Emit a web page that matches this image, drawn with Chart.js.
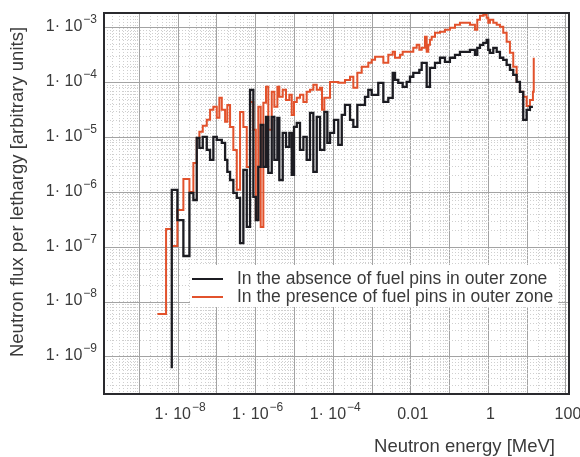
<!DOCTYPE html>
<html>
<head>
<meta charset="utf-8">
<script src="https://cdn.jsdelivr.net/npm/chart.js@4"></script>
<style>
  html, body { margin: 0; padding: 0; background: #fff; }
</style>
</head>
<body>
<canvas id="myChart" width="580" height="457"></canvas>
<script>
// lower edge of each energy group [MeV]
var energy = [
  2.93e-9, 4.90e-9, 6.41e-9, 6.88e-9, 9.6e-9, 1.37e-8, 1.96e-8, 2.48e-8, 3.03e-8, 3.54e-8,
  4.33e-8, 5.49e-8, 6.68e-8, 8.12e-8, 9.94e-8, 1.16e-7, 1.34e-7, 1.63e-7, 1.86e-7, 2.19e-7,
  2.66e-7, 3.26e-7, 3.96e-7, 4.82e-7, 5.90e-7, 7.17e-7, 8.72e-7, 1.01e-6, 1.17e-6, 1.35e-6,
  1.58e-6, 1.85e-6, 2.12e-6, 2.60e-6, 3.03e-6, 3.63e-6, 4.08e-6, 4.99e-6, 6.07e-6, 7.39e-6,
  8.52e-6, 9.76e-6, 1.15e-5, 1.39e-5, 1.70e-5, 2.07e-5, 2.52e-5, 3.07e-5, 3.76e-5, 4.57e-5,
  5.14e-5, 5.90e-5, 7.05e-5, 8.27e-5, 1.05e-4, 1.35e-4, 1.66e-4, 2.01e-4, 2.71e-4, 3.30e-4,
  4.18e-4, 5.43e-4, 6.60e-4, 8.03e-4, 9.82e-4, 1.20e-3, 1.45e-3, 1.96e-3, 2.63e-3, 3.42e-3,
  3.92e-3, 4.76e-3, 5.27e-3, 6.18e-3, 7.84e-3, 9.53e-3, 1.16e-2, 1.42e-2, 1.66e-2, 1.91e-2,
  2.32e-2, 2.57e-2, 2.82e-2, 3.12e-2, 3.46e-2, 4.21e-2, 5.66e-2, 7.61e-2, 0.102, 0.138,
  0.185, 0.249, 0.336, 0.451, 0.518, 0.608, 0.739, 0.904, 0.994, 1.10,
  1.34, 1.64, 1.99, 2.42, 2.96, 3.60, 4.38, 5.36, 6.52, 7.93,
  9.70, 11.8, 14.1, 14.8
];

// flux per lethargy, no fuel pins in outer zone (black)
var fluxAbsent = [
  null, null, 6.51e-10, 1.11e-6, 3.13e-7, 6.91e-8, 9.75e-7, 7.26e-7, 9.83e-6, 6.46e-6,
  1.03e-5, 5.94e-6, 3.90e-6, 1.03e-5, 9.04e-6, 9.04e-6, 7.97e-6, 3.90e-6, 2.36e-6, 1.68e-6,
  9.75e-7, 7.90e-7, 1.19e-7, 2.56e-6, 2.34e-7, 7.39e-5, 8.24e-7, 3.13e-7, 2.91e-6, 1.70e-5,
  2.91e-6, 2.38e-5, 2.26e-6, 2.38e-5, 3.90e-6, 2.28e-5, 1.68e-6, 1.21e-5, 6.74e-6, 1.21e-5,
  2.08e-6, 1.56e-5, 1.85e-5, 5.94e-6, 1.03e-5, 3.90e-6, 2.81e-5, 2.36e-6, 2.38e-5, 5.94e-6,
  5.94e-6, 2.93e-5, 7.97e-6, 1.21e-5, 2.10e-5, 7.33e-6, 2.58e-5, 3.93e-5, 2.10e-5, 1.56e-5,
  3.93e-5, 3.93e-5, 5.51e-5, 7.39e-5, 5.99e-5, 5.99e-5, 9.92e-5, 4.46e-5, 5.28e-5, 1.51e-4,
  1.12e-4, 9.92e-5, 9.92e-5, 8.38e-5, 1.03e-4, 1.28e-4, 1.51e-4, 1.51e-4, 1.71e-4, 2.30e-4,
  2.30e-4, 8.38e-5, 8.38e-5, 1.86e-4, 1.86e-4, 2.30e-4, 2.84e-4, 2.40e-4, 2.84e-4, 3.21e-4,
  3.65e-4, 3.65e-4, 3.97e-4, 3.21e-4, 4.32e-4, 4.90e-4, 5.32e-4, 6.04e-4, 3.97e-4, 3.50e-4,
  4.32e-4, 3.65e-4, 2.84e-4, 2.61e-4, 2.11e-4, 1.71e-4, 1.39e-4, 1.03e-4, 6.79e-5, 2.10e-5,
  3.19e-5, 3.62e-5, 3.62e-5, null
];

// flux per lethargy, fuel pins in outer zone (orange)
var fluxPresent = [
  6.04e-9, 2.15e-7, 2.15e-7, 1.05e-7, 4.77e-7, 1.76e-6, 1.02e-6, 3.44e-6, 9.83e-6, 1.27e-5,
  1.63e-5, 2.10e-5, 3.19e-5, 3.62e-5, 2.28e-5, 5.28e-5, 3.19e-5, 1.93e-5, 3.93e-5, 1.56e-5,
  5.94e-6, 1.11e-6, 2.93e-5, 1.56e-5, 2.91e-6, 4.46e-5, 1.38e-5, 3.13e-7, 3.62e-5, 2.34e-7,
  4.28e-5, 8.38e-5, 1.38e-5, 6.79e-5, 3.62e-5, 8.38e-5, 5.51e-5, 7.39e-5, 4.85e-5, 5.99e-5,
  2.58e-5, 4.46e-5, 5.28e-5, 5.99e-5, 4.46e-5, 6.79e-5, 7.39e-5, 9.12e-5, 7.39e-5, 8.04e-5,
  3.19e-5, 5.28e-5, 5.28e-5, 1.03e-4, 1.03e-4, 9.92e-5, 9.92e-5, 1.12e-4, 1.28e-4, 8.04e-5,
  1.51e-4, 1.94e-4, 1.94e-4, 2.30e-4, 2.61e-4, 2.96e-4, 2.96e-4, 2.30e-4, 3.21e-4, 3.65e-4,
  2.84e-4, 2.84e-4, 3.21e-4, 3.65e-4, 3.65e-4, 3.65e-4, 4.32e-4, 4.90e-4, 3.97e-4, 4.32e-4,
  6.85e-4, 3.65e-4, 4.90e-4, 6.04e-4, 6.85e-4, 8.11e-4, 8.45e-4, 9.19e-4, 1.00e-3, 1.13e-3,
  1.23e-3, 1.23e-3, 1.13e-3, 9.19e-4, 1.40e-3, 1.66e-3, 1.73e-3, 1.52e-3, 1.23e-3, 1.40e-3,
  1.23e-3, 1.13e-3, 1.04e-3, 8.11e-4, 5.55e-4, 3.50e-4, 1.94e-4, 1.03e-4, 6.79e-5, 5.51e-5,
  3.77e-5, 4.85e-5, 6.79e-5, 2.84e-4
];

var seriesLabels = ['In the absence of fuel pins in outer zone', 'In the presence of fuel pins in outer zone'];
var seriesColors = ['#1c1c22', '#e2522c'];

// tick labels: text before '^' is the base, after it the superscript
var xTickValues = [1e-8, 1e-6, 1e-4, 1e-2, 1, 100];
var xTickLabels = ['1\u00b7 10^\u22128', '1\u00b7 10^\u22126', '1\u00b7 10^\u22124', '0.01', '1', '100'];
var yTickValues = [1e-9, 1e-8, 1e-7, 1e-6, 1e-5, 1e-4, 1e-3];
var yTickLabels = ['1\u00b7 10^\u22129', '1\u00b7 10^\u22128', '1\u00b7 10^\u22127', '1\u00b7 10^\u22126',
                   '1\u00b7 10^\u22125', '1\u00b7 10^\u22124', '1\u00b7 10^\u22123'];

var xMin = 1.23e-10, xMax = 120;
var yMin = 2.11e-10, yMax = 1.86e-3;

if (fluxAbsent.length !== energy.length || fluxPresent.length !== energy.length) {
    throw new Error('length mismatch ' + energy.length + ' ' + fluxAbsent.length + ' ' + fluxPresent.length);
}

var FONT = "'Liberation Sans', Arial, sans-serif";
var TEXT = '#3a3a3a';

function decadeTicks(lo, hi) {
    var out = [];
    for (var e = Math.floor(Math.log10(lo)); e <= Math.ceil(Math.log10(hi)); e++) {
        for (var m = 1; m <= 9; m++) {
            var v = m * Math.pow(10, e);
            if (v >= lo && v <= hi) out.push({ value: v, major: m === 1 });
        }
    }
    return out;
}

function toPoints(ys) {
    return energy.map(function (e, i) { return { x: e, y: ys[i] }; });
}

function gridOpts() {
    return {
        drawTicks: false,
        lineWidth: 1,
        color: function (c) { return c.tick && c.tick.major ? '#a3a3a3' : '#cfcfcf'; }
    };
}
function borderOpts() {
    return {
        display: false,
        dash: function (c) { return c.tick && c.tick.major ? [] : [1, 2]; }
    };
}

// draws "base" + raised "sup"; anchor: 'right' (y axis) or 'center' (x axis)
function drawPowerLabel(ctx, label, x, y, anchor) {
    var parts = label.split('^');
    var base = parts[0], sup = parts[1] || '';
    ctx.font = '16px ' + FONT;
    var bw = ctx.measureText(base).width;
    ctx.font = '12px ' + FONT;
    var sw = sup ? ctx.measureText(sup).width + 1 : 0;
    var x0 = anchor === 'right' ? x - bw - sw : x - (bw + sw) / 2;
    ctx.textAlign = 'left';
    ctx.textBaseline = 'middle';
    ctx.font = '16px ' + FONT;
    ctx.fillText(base, x0, y);
    if (sup) {
        ctx.font = '12px ' + FONT;
        ctx.fillText(sup, x0 + bw + 1, y - 7);
    }
}

var decor = {
    id: 'decor',
    afterDraw: function (chart) {
        var ctx = chart.ctx, a = chart.chartArea;
        var xs = chart.scales.x, ys = chart.scales.y;
        ctx.save();

        // legend box inside the plot
        ctx.fillStyle = '#ffffff';
        ctx.fillRect(190, 265, 368, 42);
        ctx.font = '17.5px ' + FONT;
        ctx.textBaseline = 'middle';
        ctx.textAlign = 'left';
        var rows = [279, 297];
        for (var i = 0; i < 2; i++) {
            ctx.strokeStyle = seriesColors[i];
            ctx.lineWidth = 2;
            ctx.beginPath();
            ctx.moveTo(192, rows[i]);
            ctx.lineTo(223, rows[i]);
            ctx.stroke();
            ctx.fillStyle = TEXT;
            ctx.fillText(seriesLabels[i], 237, rows[i]);
        }

        // frame
        ctx.strokeStyle = '#2a2a2e';
        ctx.lineWidth = 2;
        ctx.strokeRect(a.left, a.top, a.right - a.left, a.bottom - a.top);

        // tick labels, placed through the scales
        ctx.fillStyle = TEXT;
        yTickValues.forEach(function (v, k) {
            drawPowerLabel(ctx, yTickLabels[k], a.left - 7, ys.getPixelForValue(v) - 1, 'right');
        });
        xTickValues.forEach(function (v, k) {
            drawPowerLabel(ctx, xTickLabels[k], xs.getPixelForValue(v) + 2, a.bottom + 21, 'center');
        });

        // axis titles
        ctx.font = '18.5px ' + FONT;
        ctx.textAlign = 'right';
        ctx.textBaseline = 'middle';
        ctx.fillText('Neutron energy [MeV]', 555, 447);

        ctx.translate(18, 192);
        ctx.rotate(-Math.PI / 2);
        ctx.textAlign = 'center';
        ctx.fillText('Neutron flux per lethargy [arbitrary units]', 0, 0);
        ctx.restore();
    }
};

var ctx = document.getElementById('myChart');
window.fluxChart = new Chart(ctx, {
    type: 'line',
    data: {
        datasets: [{
            label: seriesLabels[0],
            data: toPoints(fluxAbsent),
            borderColor: seriesColors[0],
            borderWidth: 2.3,
            stepped: true,
            pointRadius: 0,
            fill: false
        }, {
            label: seriesLabels[1],
            data: toPoints(fluxPresent),
            borderColor: seriesColors[1],
            borderWidth: 2,
            stepped: true,
            pointRadius: 0,
            fill: false
        }]
    },
    options: {
        responsive: false,
        animation: false,
        layout: { padding: { top: 13, right: 11, left: 0, bottom: 0 } },
        plugins: { legend: { display: false }, tooltip: { enabled: false } },
        scales: {
            x: {
                type: 'logarithmic',
                min: xMin,
                max: xMax,
                afterBuildTicks: function (s) { s.ticks = decadeTicks(xMin, xMax); },
                afterFit: function (s) { s.height = 63; },
                grid: gridOpts(),
                border: borderOpts(),
                ticks: { display: false, autoSkip: false, maxRotation: 0 }
            },
            y: {
                type: 'logarithmic',
                min: yMin,
                max: yMax,
                afterBuildTicks: function (s) { s.ticks = decadeTicks(yMin, yMax); },
                afterFit: function (s) { s.width = 104; },
                grid: gridOpts(),
                border: borderOpts(),
                ticks: { display: false, autoSkip: false }
            }
        }
    },
    plugins: [decor]
});
</script>
</body>
</html>
